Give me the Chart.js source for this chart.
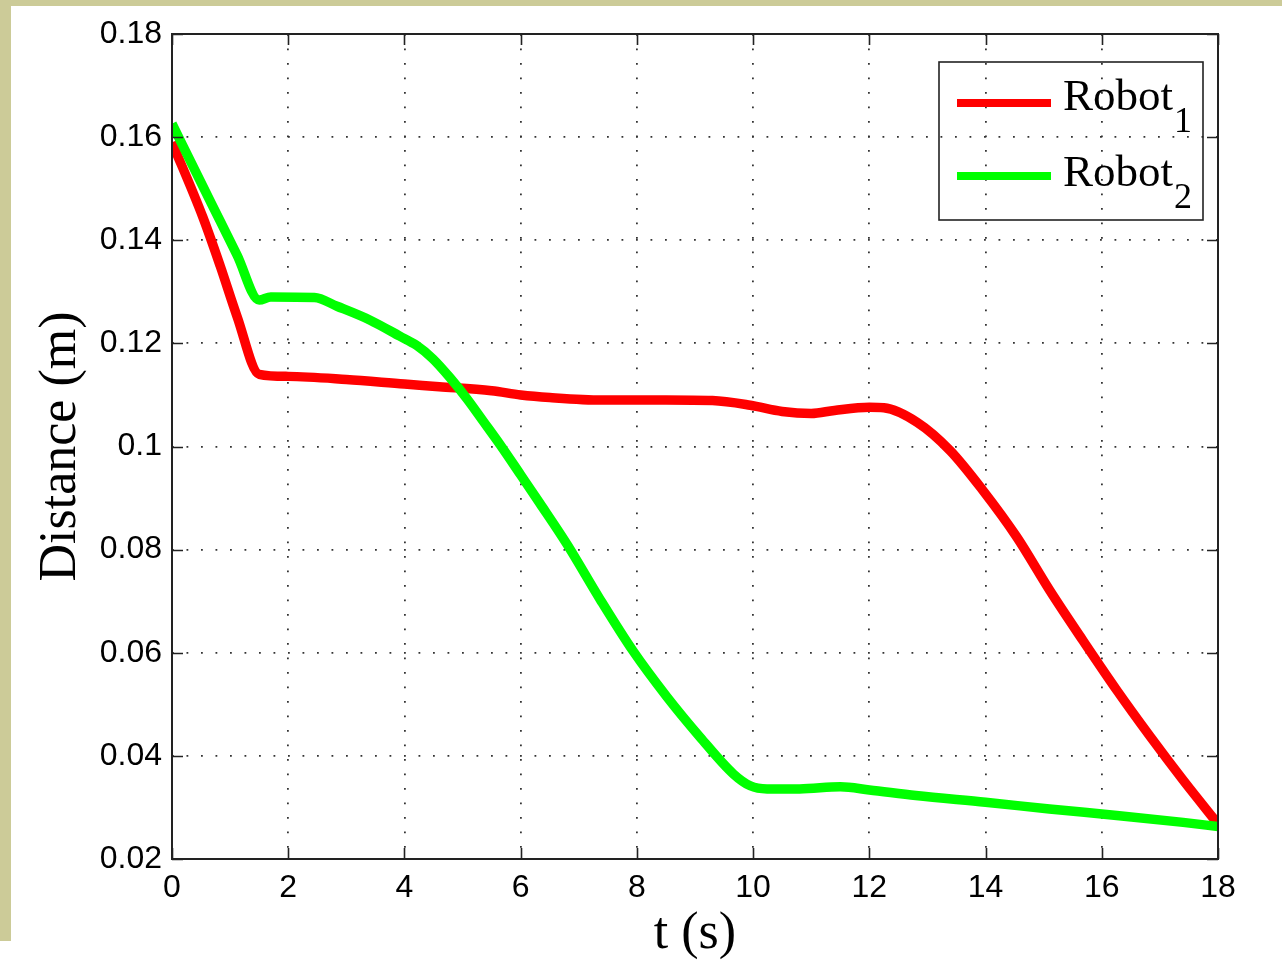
<!DOCTYPE html>
<html>
<head>
<meta charset="utf-8">
<script src="https://cdn.jsdelivr.net/npm/chart.js@4.4.1/dist/chart.umd.min.js"></script>
<style>
  html, body { margin: 0; padding: 0; background: #ffffff; }
  #wrap { position: relative; width: 1282px; height: 971px; }
</style>
</head>
<body>
<div id="wrap"><canvas id="grafico" width="1282" height="971"></canvas></div>
<script>
// valores
const timeRobot1 = [0, 0.53, 0.83, 1.12, 1.5, 2.0, 3.0, 4.0, 4.6, 5.5, 6.0, 6.5, 7.4, 8.5, 9.3, 9.95, 10.5, 11.0, 11.4, 12.0, 12.25, 12.82, 13.39, 13.96, 14.54, 15.11, 15.68, 16.26, 16.83, 17.4, 18.0];
const distRobot1 = [0.159, 0.1445, 0.1350, 0.1252, 0.1140, 0.1136, 0.1130, 0.1121, 0.1116, 0.1108, 0.1100, 0.1095, 0.1090, 0.1090, 0.1089, 0.1080, 0.1068, 0.1064, 0.1070, 0.1076, 0.1075, 0.1047, 0.0992, 0.0914, 0.0824, 0.0720, 0.0623, 0.0527, 0.0438, 0.0353, 0.0268];

const timeRobot2 = [0, 0.53, 0.83, 1.12, 1.5, 1.7, 2.45, 2.84, 3.41, 3.92, 4.21, 4.49, 4.78, 5.08, 5.35, 5.65, 6.0, 6.33, 6.8, 7.37, 7.93, 8.52, 9.09, 9.66, 9.95, 10.24, 10.8, 11.5, 12.0, 12.8, 14.0, 15.1, 16.3, 17.4, 18.0];
const distRobot2 = [0.1626, 0.1505, 0.1437, 0.1371, 0.1284, 0.1290, 0.1289, 0.1272, 0.1245, 0.1214, 0.1196, 0.1170, 0.1134, 0.1092, 0.1050, 0.1003, 0.0945, 0.0890, 0.0810, 0.0703, 0.0604, 0.0514, 0.0436, 0.0365, 0.0342, 0.0336, 0.0336, 0.0340, 0.0334, 0.0323, 0.0310, 0.0297, 0.0284, 0.0271, 0.0263];

const xTickValues = [0, 2, 4, 6, 8, 10, 12, 14, 16, 18];
const xTickLabels = ['0', '2', '4', '6', '8', '10', '12', '14', '16', '18'];
const yTickValues = [0.02, 0.04, 0.06, 0.08, 0.10, 0.12, 0.14, 0.16, 0.18];
const yTickLabels = ['0.02', '0.04', '0.06', '0.08', '0.1', '0.12', '0.14', '0.16', '0.18'];

const seriesNames = ['Robot', 'Robot'];
const seriesSubs = ['1', '2'];

function montarPontos(ts, ds) {
  return ts.map((t, i) => ({ x: t, y: ds[i] }));
}

// fundo bege com painel branco
const fundoPlugin = {
  id: 'fundo',
  beforeDraw(chart) {
    const ctx = chart.ctx;
    ctx.save();
    ctx.fillStyle = '#ffffff';
    ctx.fillRect(0, 0, chart.width, chart.height);
    ctx.fillStyle = '#cccb98';
    ctx.fillRect(0, 0, chart.width, 6);
    ctx.fillRect(0, 0, 11, 941);
    ctx.restore();
  }
};

// caixa e marcas internas, estilo matlab
const caixaPlugin = {
  id: 'caixa',
  afterDatasetsDraw(chart) {
    const { ctx, chartArea: a, scales } = chart;
    ctx.save();
    ctx.strokeStyle = '#222222';
    ctx.lineWidth = 1.6;
    ctx.beginPath();
    xTickValues.forEach(v => {
      const px = Math.round(scales.x.getPixelForValue(v)) + 0.5;
      ctx.moveTo(px, a.bottom); ctx.lineTo(px, a.bottom - 11);
      ctx.moveTo(px, a.top); ctx.lineTo(px, a.top + 11);
    });
    yTickValues.forEach(v => {
      const py = Math.round(scales.y.getPixelForValue(v)) + 0.5;
      ctx.moveTo(a.left, py); ctx.lineTo(a.left + 11, py);
      ctx.moveTo(a.right, py); ctx.lineTo(a.right - 11, py);
    });
    ctx.stroke();
    ctx.lineWidth = 2;
    ctx.strokeRect(a.left, a.top, a.right - a.left, a.bottom - a.top);
    ctx.restore();
  }
};

// legenda com subscrito
const legendaPlugin = {
  id: 'legenda',
  afterDraw(chart) {
    const ctx = chart.ctx;
    const bx = 939, by = 62, bw = 264, bh = 158;
    ctx.save();
    ctx.strokeStyle = '#222222';
    ctx.lineWidth = 1.6;
    ctx.strokeRect(bx, by, bw, bh);
    chart.data.datasets.forEach((ds, i) => {
      const ly = 103 + i * 73;
      ctx.strokeStyle = ds.borderColor;
      ctx.lineWidth = 8;
      ctx.beginPath();
      ctx.moveTo(957, ly);
      ctx.lineTo(1051, ly);
      ctx.stroke();
      ctx.fillStyle = '#000000';
      ctx.textBaseline = 'alphabetic';
      ctx.font = '45px "Liberation Serif", "Times New Roman", serif';
      const base = 110 + i * 76;
      ctx.fillText(seriesNames[i], 1063, base);
      const w = ctx.measureText(seriesNames[i]).width;
      ctx.font = '36px "Liberation Serif", "Times New Roman", serif';
      ctx.fillText(seriesSubs[i], 1063 + w + 1, base + 22);
    });
    ctx.restore();
  }
};

new Chart(document.getElementById('grafico'), {
  type: 'line',
  data: {
    datasets: [{
      label: 'Robot₁',
      data: montarPontos(timeRobot1, distRobot1),
      borderColor: '#ff0000',
      borderWidth: 9.5,
      pointRadius: 0,
      cubicInterpolationMode: 'monotone',
      borderJoinStyle: 'round',
      clip: 0,
      order: 2
    }, {
      label: 'Robot₂',
      data: montarPontos(timeRobot2, distRobot2),
      borderColor: '#00ff00',
      borderWidth: 9.5,
      pointRadius: 0,
      cubicInterpolationMode: 'monotone',
      borderJoinStyle: 'round',
      clip: 0,
      order: 1
    }]
  },
  options: {
    responsive: false,
    animation: false,
    layout: { padding: { top: 34, right: 64, left: 0, bottom: 0 } },
    plugins: {
      legend: { display: false },
      tooltip: { enabled: false }
    },
    scales: {
      x: {
        type: 'linear',
        min: 0,
        max: 18,
        afterBuildTicks: s => { s.ticks = xTickValues.map(v => ({ value: v })); },
        afterFit: s => { s.height = 112; },
        ticks: {
          callback: (v, i) => xTickLabels[i],
          color: '#000000',
          padding: 10,
          maxRotation: 0,
          font: { family: '"Liberation Sans", Arial, sans-serif', size: 32 }
        },
        grid: { color: '#333333', lineWidth: 1.8, drawTicks: false },
        border: { display: false, dash: [1.8, 12.7] },
        title: {
          display: true,
          text: 't (s)',
          color: '#000000',
          padding: { top: 0, bottom: 5 },
          font: { family: '"Liberation Serif", "Times New Roman", serif', size: 52 }
        }
      },
      y: {
        type: 'linear',
        min: 0.02,
        max: 0.18,
        afterBuildTicks: s => { s.ticks = yTickValues.map(v => ({ value: v })); },
        afterFit: s => { s.width = 172; },
        ticks: {
          callback: (v, i) => yTickLabels[i],
          color: '#000000',
          padding: 10,
          font: { family: '"Liberation Sans", Arial, sans-serif', size: 32 }
        },
        grid: { color: '#333333', lineWidth: 1.8, drawTicks: false },
        border: { display: false, dash: [1.8, 12.7] },
        title: {
          display: true,
          text: 'Distance (m)',
          color: '#000000',
          padding: { top: 30, bottom: 0 },
          font: { family: '"Liberation Serif", "Times New Roman", serif', size: 52 }
        }
      }
    }
  },
  plugins: [fundoPlugin, caixaPlugin, legendaPlugin]
});
</script>
</body>
</html>
